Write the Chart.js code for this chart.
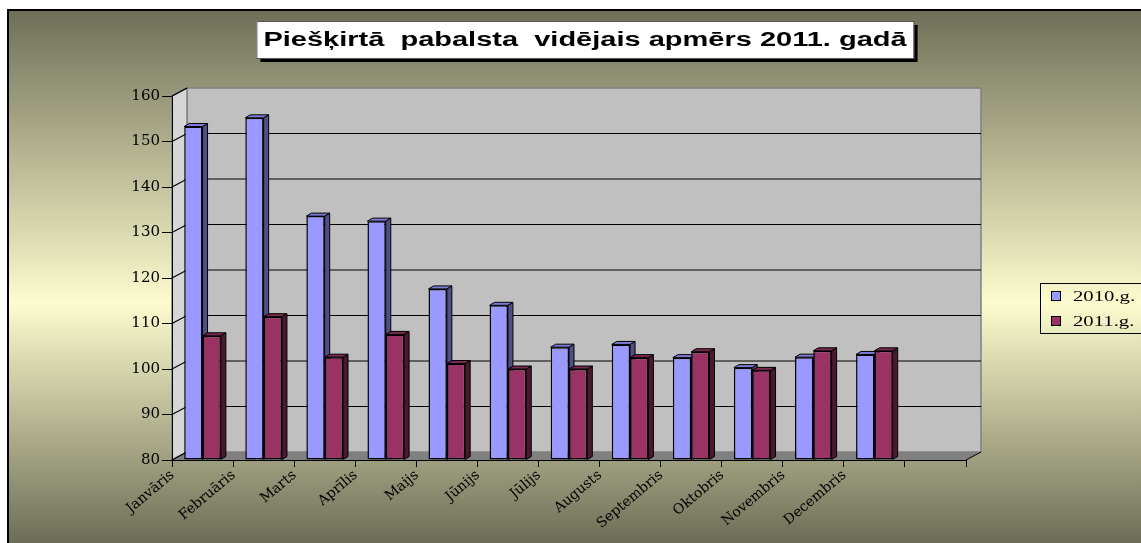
<!DOCTYPE html>
<html>
<head>
<meta charset="utf-8">
<script src="https://cdn.jsdelivr.net/npm/chart.js@4.4.1/dist/chart.umd.min.js"></script>
<style>
  html, body { margin: 0; padding: 0; background: #fff; }
  #chart { display: block; }
</style>
</head>
<body>
<canvas id="chart" width="1141" height="543"></canvas>
<script>
const months = ['Janvāris', 'Februāris', 'Marts', 'Aprīlis', 'Maijs', 'Jūnijs', 'Jūlijs', 'Augusts', 'Septembris', 'Oktobris', 'Novembris', 'Decembris'];
const values2010 = [153.3, 155.2, 133.6, 132.5, 117.6, 114.0, 104.8, 105.4, 102.5, 100.3, 102.6, 103.2];
const values2011 = [107.3, 111.5, 102.6, 107.6, 101.2, 100.0, 100.0, 102.5, 103.8, 99.7, 104.0, 104.0];
const seriesNames = ['2010.g.', '2011.g.'];
const yMin = 80, yMax = 160, yStep = 10;
const chartTitle = 'Piešķirtā  pabalsta  vidējais apmērs 2011. gadā';

// depth of the fake 3d box and of the bars
const WALL_DX = 15, WALL_DY = -8;
const BAR_DX = 5, BAR_DY = -3;

// faces: front, side, top
const faceColors = [
  ['#9999ff', '#4f4f86', '#7b7bd6'],
  ['#993366', '#4a1830', '#7a2850']
];

const scenePlugin = {
  id: 'scene',
  beforeDraw(chart) {
    const ctx = chart.ctx;
    const W = chart.width, H = chart.height;
    const ca = chart.chartArea;
    const y = chart.scales.y;

    ctx.save();
    // background
    ctx.fillStyle = '#fff';
    ctx.fillRect(0, 0, W, H);
    const g = ctx.createLinearGradient(0, 10, 0, H);
    g.addColorStop(0, '#6f6f58');
    g.addColorStop(0.55, '#fcfcce');
    g.addColorStop(1, '#6d6d56');
    ctx.fillStyle = g;
    ctx.fillRect(8, 10, W, H);
    ctx.strokeStyle = '#000';
    ctx.lineWidth = 2;
    ctx.beginPath();
    ctx.moveTo(8, H + 2);
    ctx.lineTo(8, 10);
    ctx.lineTo(W + 2, 10);
    ctx.stroke();

    // title box (text is drawn wide, like the original)
    const stretch = 1.45;
    ctx.font = 'bold 20px "Liberation Sans", Arial, sans-serif';
    const tw = ctx.measureText(chartTitle).width * stretch;
    const bw = tw + 14, bh = 37;
    const bx = 585 - bw / 2, by = 21;
    ctx.fillStyle = '#000';
    ctx.fillRect(bx + 4, by + 4, bw, bh);
    ctx.fillStyle = '#fff';
    ctx.fillRect(bx, by, bw, bh);
    ctx.lineWidth = 1;
    ctx.strokeStyle = '#555';
    ctx.strokeRect(bx + 0.5, by + 0.5, bw, bh);
    ctx.fillStyle = '#000';
    ctx.textBaseline = 'middle';
    ctx.textAlign = 'left';
    ctx.save();
    ctx.translate(bx + 7, by + bh / 2 + 1);
    ctx.scale(stretch, 1);
    ctx.fillText(chartTitle, 0, 0);
    ctx.restore();

    // walls
    const L = ca.left, R = ca.right, T = ca.top, B = ca.bottom;
    // back wall
    ctx.fillStyle = '#c0c0c0';
    ctx.fillRect(L + WALL_DX, T + WALL_DY, R - L, B - T);
    ctx.strokeStyle = '#808080';
    ctx.lineWidth = 1.5;
    ctx.strokeRect(L + WALL_DX, T + WALL_DY, R - L, B - T);
    // left wall
    ctx.fillStyle = '#d6d6d6';
    ctx.beginPath();
    ctx.moveTo(L, T);
    ctx.lineTo(L + WALL_DX, T + WALL_DY);
    ctx.lineTo(L + WALL_DX, B + WALL_DY);
    ctx.lineTo(L, B);
    ctx.closePath();
    ctx.fill();
    ctx.stroke();
    // floor
    ctx.fillStyle = '#808080';
    ctx.beginPath();
    ctx.moveTo(L, B);
    ctx.lineTo(L + WALL_DX, B + WALL_DY);
    ctx.lineTo(R + WALL_DX, B + WALL_DY);
    ctx.lineTo(R, B);
    ctx.closePath();
    ctx.fill();
    ctx.strokeStyle = '#000';
    ctx.lineWidth = 1;
    ctx.beginPath();
    ctx.moveTo(R, B);
    ctx.lineTo(R + WALL_DX, B + WALL_DY);
    ctx.stroke();

    // grid on the walls, from the y scale
    ctx.strokeStyle = '#000';
    ctx.lineWidth = 1.2;
    for (let v = yMin; v <= yMax; v += yStep) {
      const py = y.getPixelForValue(v);
      ctx.beginPath();
      ctx.moveTo(L, py);
      ctx.lineTo(L + WALL_DX, py + WALL_DY);
      if (v > yMin && v < yMax) ctx.lineTo(R + WALL_DX, py + WALL_DY);
      ctx.stroke();
    }

    // legend
    ctx.lineWidth = 1;
    ctx.strokeStyle = '#000';
    ctx.strokeRect(1040.5, 283.5, 120, 50);
    ctx.font = '15px "Liberation Serif", "Times New Roman", serif';
    ctx.textBaseline = 'alphabetic';
    chart.data.datasets.forEach((ds, i) => {
      const iy = 291 + i * 25;
      ctx.fillStyle = ds.backgroundColor;
      ctx.fillRect(1051, iy, 9, 9);
      ctx.strokeRect(1051.5, iy + 0.5, 9, 9);
      ctx.save();
      ctx.translate(1073, iy + 10);
      ctx.scale(1.38, 1);
      ctx.fillStyle = '#000';
      ctx.fillText(ds.label, 0, 0);
      ctx.restore();
    });
    ctx.restore();
  },
  beforeDatasetsDraw(chart) {
    // side and top faces of the bars
    const ctx = chart.ctx;
    const bottom = chart.chartArea.bottom;
    ctx.save();
    ctx.strokeStyle = '#000';
    ctx.lineWidth = 1;
    const n = chart.data.labels.length;
    for (let j = 0; j < n; j++) {
      chart.data.datasets.forEach((ds, i) => {
        const el = chart.getDatasetMeta(i).data[j];
        if (!el) return;
        const x0 = el.x - el.width / 2, x1 = el.x + el.width / 2;
        const top = el.y, base = Math.min(el.base, bottom);
        ctx.fillStyle = faceColors[i][1];
        ctx.beginPath();
        ctx.moveTo(x1, top);
        ctx.lineTo(x1 + BAR_DX, top + BAR_DY);
        ctx.lineTo(x1 + BAR_DX, base + BAR_DY);
        ctx.lineTo(x1, base);
        ctx.closePath();
        ctx.fill();
        ctx.stroke();
        ctx.fillStyle = faceColors[i][2];
        ctx.beginPath();
        ctx.moveTo(x0, top);
        ctx.lineTo(x0 + BAR_DX, top + BAR_DY);
        ctx.lineTo(x1 + BAR_DX, top + BAR_DY);
        ctx.lineTo(x1, top);
        ctx.closePath();
        ctx.fill();
        ctx.stroke();
      });
    }
    ctx.restore();
  }
};

const labels = months.concat(['']);

new Chart(document.getElementById('chart'), {
  type: 'bar',
  data: {
    labels: labels,
    datasets: [
      {
        label: seriesNames[0],
        data: values2010,
        base: yMin,
        backgroundColor: faceColors[0][0],
        borderColor: '#000',
        borderWidth: 1.5,
        borderSkipped: false
      },
      {
        label: seriesNames[1],
        data: values2011,
        base: yMin,
        backgroundColor: faceColors[1][0],
        borderColor: '#000',
        borderWidth: 1.5,
        borderSkipped: false
      }
    ]
  },
  options: {
    responsive: false,
    animation: false,
    layout: { padding: { top: 96, right: 175, bottom: 0, left: 0 } },
    datasets: { bar: { barPercentage: 1, categoryPercentage: 0.6 } },
    plugins: {
      legend: { display: false },
      title: { display: false },
      tooltip: { enabled: false }
    },
    scales: {
      x: {
        offset: true,
        grid: { offset: true, drawOnChartArea: false, drawTicks: true, tickLength: 7, color: '#000' },
        border: { display: true, color: '#000', width: 1 },
        ticks: {
          autoSkip: false,
          minRotation: 40,
          maxRotation: 40,
          labelOffset: -30,
          padding: 0,
          color: '#000',
          font: { family: '"DejaVu Serif", serif', size: 14 }
        },
        afterFit(scale) { scale.height = 83; }
      },
      y: {
        min: yMin,
        max: yMax,
        grid: { drawOnChartArea: false, drawTicks: true, tickLength: 10, color: '#000' },
        border: { display: true, color: '#000', width: 1 },
        ticks: {
          stepSize: yStep,
          padding: 2,
          color: '#000',
          font: { family: '"DejaVu Serif", serif', size: 15 }
        },
        afterFit(scale) { scale.width = 172; }
      }
    }
  },
  plugins: [scenePlugin]
});
</script>
</body>
</html>
